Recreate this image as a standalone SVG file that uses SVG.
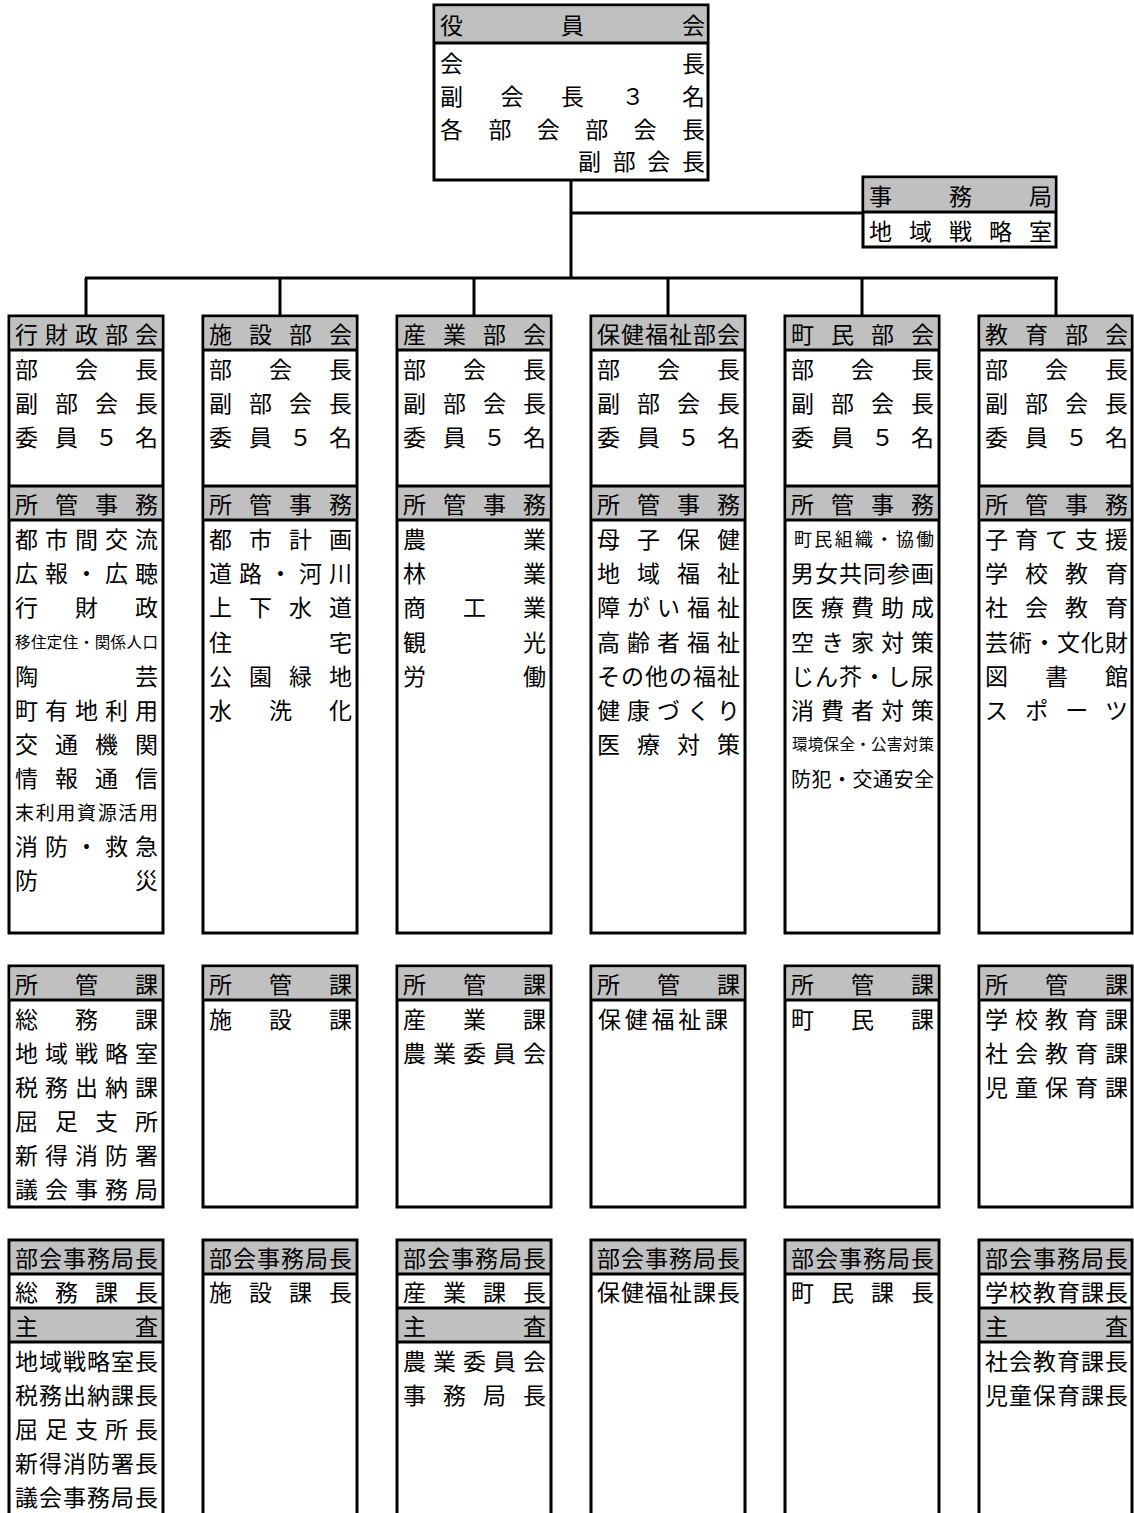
<svg xmlns="http://www.w3.org/2000/svg" width="1134" height="1513" viewBox="0 0 1134 1513">
<style>
.bg{fill:#ffffff}
.box{fill:#ffffff;stroke:#000;stroke-width:3}
.open{fill:none;stroke:#000;stroke-width:3}
.g{fill:#c0c0c0}
.ln{stroke:#000;stroke-width:3;fill:none}
text{font-family:"Noto Sans CJK JP","Noto Sans CJK SC",sans-serif;font-size:23px;fill:#000;dominant-baseline:central}
.s15{font-size:15.5px}
.s18{font-size:18px}
.s19{font-size:19px}
.s20{font-size:20px}
</style>
<rect class="bg" x="0" y="0" width="1134" height="1513"/>

<g id="connectors">
<path class="ln" d="M571,180 V278"/>
<path class="ln" d="M571,213 H863"/>
<path class="ln" d="M85,278 H1058"/>
<path class="ln" d="M86,278 V316 M280,278 V316 M474,278 V316 M668,278 V316 M862,278 V316 M1056,278 V316"/>
</g>

<g id="yakuinkai">
<rect class="box" x="434" y="5" width="274" height="175"/>
<rect class="g" x="435.5" y="6.5" width="271" height="36"/>
<path class="ln" d="M434,43 H708"/>
<text x="440" y="24" textLength="265" lengthAdjust="spacing">役員会</text>
<text x="440" y="62" textLength="265" lengthAdjust="spacing">会長</text>
<text x="440" y="95" textLength="265" lengthAdjust="spacing">副会長３名</text>
<text x="440" y="128" textLength="265" lengthAdjust="spacing">各部会部会長</text>
<text x="578" y="160" textLength="127" lengthAdjust="spacing">副部会長</text>
</g>

<g id="jimukyoku">
<rect class="box" x="863" y="177" width="193" height="70"/>
<rect class="g" x="864.5" y="178.5" width="190" height="33"/>
<path class="ln" d="M863,212 H1056"/>
<text x="869" y="195" textLength="183" lengthAdjust="spacing">事務局</text>
<text x="869" y="230" textLength="183" lengthAdjust="spacing">地域戦略室</text>
</g>

<!-- Column 1 -->
<g id="col1-bukai">
<rect class="box" x="9" y="316" width="154" height="617"/>
<rect class="g" x="10.5" y="317.5" width="151" height="32"/>
<rect class="g" x="10.5" y="487" width="151" height="32"/>
<path class="ln" d="M9,350 H163 M9,486 H163 M9,520 H163"/>
<text x="15" y="333" textLength="143" lengthAdjust="spacing">行財政部会</text>
<text x="15" y="368" textLength="143" lengthAdjust="spacing">部会長</text>
<text x="15" y="402" textLength="143" lengthAdjust="spacing">副部会長</text>
<text x="15" y="436" textLength="143" lengthAdjust="spacing">委員５名</text>
<text x="15" y="503" textLength="143" lengthAdjust="spacing">所管事務</text>
<text x="15" y="538" textLength="143" lengthAdjust="spacing">都市間交流</text>
<text x="15" y="572" textLength="143" lengthAdjust="spacing">広報・広聴</text>
<text x="15" y="606" textLength="143" lengthAdjust="spacing">行財政</text>
<text class="s15" x="15" y="641" textLength="143" lengthAdjust="spacing">移住定住・関係人口</text>
<text x="15" y="675" textLength="143" lengthAdjust="spacing">陶芸</text>
<text x="15" y="709" textLength="143" lengthAdjust="spacing">町有地利用</text>
<text x="15" y="743" textLength="143" lengthAdjust="spacing">交通機関</text>
<text x="15" y="777" textLength="143" lengthAdjust="spacing">情報通信</text>
<text class="s19" x="15" y="811" textLength="143" lengthAdjust="spacing">末利用資源活用</text>
<text x="15" y="845" textLength="143" lengthAdjust="spacing">消防・救急</text>
<text x="15" y="879" textLength="143" lengthAdjust="spacing">防災</text>
</g>
<g id="col1-kakari">
<rect class="box" x="9" y="966" width="154" height="241"/>
<rect class="g" x="10.5" y="967.5" width="151" height="32"/>
<path class="ln" d="M9,1000 H163"/>
<text x="15" y="983" textLength="143" lengthAdjust="spacing">所管課</text>
<text x="15" y="1018" textLength="143" lengthAdjust="spacing">総務課</text>
<text x="15" y="1052" textLength="143" lengthAdjust="spacing">地域戦略室</text>
<text x="15" y="1086" textLength="143" lengthAdjust="spacing">税務出納課</text>
<text x="15" y="1120" textLength="143" lengthAdjust="spacing">屈足支所</text>
<text x="15" y="1154" textLength="143" lengthAdjust="spacing">新得消防署</text>
<text x="15" y="1188" textLength="143" lengthAdjust="spacing">議会事務局</text>
</g>
<g id="col1-kyokucho">
<rect class="g" x="10.5" y="1241.5" width="151" height="32"/>
<rect class="g" x="10.5" y="1309" width="151" height="32"/>
<path class="open" d="M9,1513 V1240 H163 V1513"/>
<path class="ln" d="M9,1274 H163 M9,1308 H163 M9,1342 H163"/>
<text x="15" y="1257" textLength="143" lengthAdjust="spacing">部会事務局長</text>
<text x="15" y="1291" textLength="143" lengthAdjust="spacing">総務課長</text>
<text x="15" y="1325" textLength="143" lengthAdjust="spacing">主査</text>
<text x="15" y="1360" textLength="143" lengthAdjust="spacing">地域戦略室長</text>
<text x="15" y="1394" textLength="143" lengthAdjust="spacing">税務出納課長</text>
<text x="15" y="1428" textLength="143" lengthAdjust="spacing">屈足支所長</text>
<text x="15" y="1462" textLength="143" lengthAdjust="spacing">新得消防署長</text>
<text x="15" y="1496" textLength="143" lengthAdjust="spacing">議会事務局長</text>
</g>

<!-- Column 2 -->
<g id="col2-bukai">
<rect class="box" x="203" y="316" width="154" height="617"/>
<rect class="g" x="204.5" y="317.5" width="151" height="32"/>
<rect class="g" x="204.5" y="487" width="151" height="32"/>
<path class="ln" d="M203,350 H357 M203,486 H357 M203,520 H357"/>
<text x="209" y="333" textLength="143" lengthAdjust="spacing">施設部会</text>
<text x="209" y="368" textLength="143" lengthAdjust="spacing">部会長</text>
<text x="209" y="402" textLength="143" lengthAdjust="spacing">副部会長</text>
<text x="209" y="436" textLength="143" lengthAdjust="spacing">委員５名</text>
<text x="209" y="503" textLength="143" lengthAdjust="spacing">所管事務</text>
<text x="209" y="538" textLength="143" lengthAdjust="spacing">都市計画</text>
<text x="209" y="572" textLength="143" lengthAdjust="spacing">道路・河川</text>
<text x="209" y="606" textLength="143" lengthAdjust="spacing">上下水道</text>
<text x="209" y="641" textLength="143" lengthAdjust="spacing">住宅</text>
<text x="209" y="675" textLength="143" lengthAdjust="spacing">公園緑地</text>
<text x="209" y="709" textLength="143" lengthAdjust="spacing">水洗化</text>
</g>
<g id="col2-kakari">
<rect class="box" x="203" y="966" width="154" height="241"/>
<rect class="g" x="204.5" y="967.5" width="151" height="32"/>
<path class="ln" d="M203,1000 H357"/>
<text x="209" y="983" textLength="143" lengthAdjust="spacing">所管課</text>
<text x="209" y="1018" textLength="143" lengthAdjust="spacing">施設課</text>
</g>
<g id="col2-kyokucho">
<rect class="g" x="204.5" y="1241.5" width="151" height="32"/>
<path class="open" d="M203,1513 V1240 H357 V1513"/>
<path class="ln" d="M203,1274 H357"/>
<text x="209" y="1257" textLength="143" lengthAdjust="spacing">部会事務局長</text>
<text x="209" y="1291" textLength="143" lengthAdjust="spacing">施設課長</text>
</g>

<!-- Column 3 -->
<g id="col3-bukai">
<rect class="box" x="397" y="316" width="154" height="617"/>
<rect class="g" x="398.5" y="317.5" width="151" height="32"/>
<rect class="g" x="398.5" y="487" width="151" height="32"/>
<path class="ln" d="M397,350 H551 M397,486 H551 M397,520 H551"/>
<text x="403" y="333" textLength="143" lengthAdjust="spacing">産業部会</text>
<text x="403" y="368" textLength="143" lengthAdjust="spacing">部会長</text>
<text x="403" y="402" textLength="143" lengthAdjust="spacing">副部会長</text>
<text x="403" y="436" textLength="143" lengthAdjust="spacing">委員５名</text>
<text x="403" y="503" textLength="143" lengthAdjust="spacing">所管事務</text>
<text x="403" y="538" textLength="143" lengthAdjust="spacing">農業</text>
<text x="403" y="572" textLength="143" lengthAdjust="spacing">林業</text>
<text x="403" y="606" textLength="143" lengthAdjust="spacing">商工業</text>
<text x="403" y="641" textLength="143" lengthAdjust="spacing">観光</text>
<text x="403" y="675" textLength="143" lengthAdjust="spacing">労働</text>
</g>
<g id="col3-kakari">
<rect class="box" x="397" y="966" width="154" height="241"/>
<rect class="g" x="398.5" y="967.5" width="151" height="32"/>
<path class="ln" d="M397,1000 H551"/>
<text x="403" y="983" textLength="143" lengthAdjust="spacing">所管課</text>
<text x="403" y="1018" textLength="143" lengthAdjust="spacing">産業課</text>
<text x="403" y="1052" textLength="143" lengthAdjust="spacing">農業委員会</text>
</g>
<g id="col3-kyokucho">
<rect class="g" x="398.5" y="1241.5" width="151" height="32"/>
<rect class="g" x="398.5" y="1309" width="151" height="32"/>
<path class="open" d="M397,1513 V1240 H551 V1513"/>
<path class="ln" d="M397,1274 H551 M397,1308 H551 M397,1342 H551"/>
<text x="403" y="1257" textLength="143" lengthAdjust="spacing">部会事務局長</text>
<text x="403" y="1291" textLength="143" lengthAdjust="spacing">産業課長</text>
<text x="403" y="1325" textLength="143" lengthAdjust="spacing">主査</text>
<text x="403" y="1360" textLength="143" lengthAdjust="spacing">農業委員会</text>
<text x="403" y="1394" textLength="143" lengthAdjust="spacing">事務局長</text>
</g>

<!-- Column 4 -->
<g id="col4-bukai">
<rect class="box" x="591" y="316" width="154" height="617"/>
<rect class="g" x="592.5" y="317.5" width="151" height="32"/>
<rect class="g" x="592.5" y="487" width="151" height="32"/>
<path class="ln" d="M591,350 H745 M591,486 H745 M591,520 H745"/>
<text x="597" y="333" textLength="143" lengthAdjust="spacing">保健福祉部会</text>
<text x="597" y="368" textLength="143" lengthAdjust="spacing">部会長</text>
<text x="597" y="402" textLength="143" lengthAdjust="spacing">副部会長</text>
<text x="597" y="436" textLength="143" lengthAdjust="spacing">委員５名</text>
<text x="597" y="503" textLength="143" lengthAdjust="spacing">所管事務</text>
<text x="597" y="538" textLength="143" lengthAdjust="spacing">母子保健</text>
<text x="597" y="572" textLength="143" lengthAdjust="spacing">地域福祉</text>
<text x="597" y="606" textLength="143" lengthAdjust="spacing">障がい福祉</text>
<text x="597" y="641" textLength="143" lengthAdjust="spacing">高齢者福祉</text>
<text x="597" y="675" textLength="143" lengthAdjust="spacing">その他の福祉</text>
<text x="597" y="709" textLength="143" lengthAdjust="spacing">健康づくり</text>
<text x="597" y="743" textLength="143" lengthAdjust="spacing">医療対策</text>
</g>
<g id="col4-kakari">
<rect class="box" x="591" y="966" width="154" height="241"/>
<rect class="g" x="592.5" y="967.5" width="151" height="32"/>
<path class="ln" d="M591,1000 H745"/>
<text x="597" y="983" textLength="143" lengthAdjust="spacing">所管課</text>
<text x="598" y="1018" textLength="130" lengthAdjust="spacing">保健福祉課</text>
</g>
<g id="col4-kyokucho">
<rect class="g" x="592.5" y="1241.5" width="151" height="32"/>
<path class="open" d="M591,1513 V1240 H745 V1513"/>
<path class="ln" d="M591,1274 H745"/>
<text x="597" y="1257" textLength="143" lengthAdjust="spacing">部会事務局長</text>
<text x="597" y="1291" textLength="143" lengthAdjust="spacing">保健福祉課長</text>
</g>

<!-- Column 5 -->
<g id="col5-bukai">
<rect class="box" x="785" y="316" width="154" height="617"/>
<rect class="g" x="786.5" y="317.5" width="151" height="32"/>
<rect class="g" x="786.5" y="487" width="151" height="32"/>
<path class="ln" d="M785,350 H939 M785,486 H939 M785,520 H939"/>
<text x="791" y="333" textLength="143" lengthAdjust="spacing">町民部会</text>
<text x="791" y="368" textLength="143" lengthAdjust="spacing">部会長</text>
<text x="791" y="402" textLength="143" lengthAdjust="spacing">副部会長</text>
<text x="791" y="436" textLength="143" lengthAdjust="spacing">委員５名</text>
<text x="791" y="503" textLength="143" lengthAdjust="spacing">所管事務</text>
<text class="s18" x="794" y="538" textLength="140" lengthAdjust="spacing">町民組織・協働</text>
<text x="791" y="572" textLength="143" lengthAdjust="spacing">男女共同参画</text>
<text x="791" y="606" textLength="143" lengthAdjust="spacing">医療費助成</text>
<text x="791" y="641" textLength="143" lengthAdjust="spacing">空き家対策</text>
<text x="791" y="675" textLength="143" lengthAdjust="spacing">じん芥・し尿</text>
<text x="791" y="709" textLength="143" lengthAdjust="spacing">消費者対策</text>
<text class="s15" x="792" y="743" textLength="142" lengthAdjust="spacing">環境保全・公害対策</text>
<text class="s20" x="791" y="778" textLength="143" lengthAdjust="spacing">防犯・交通安全</text>
</g>
<g id="col5-kakari">
<rect class="box" x="785" y="966" width="154" height="241"/>
<rect class="g" x="786.5" y="967.5" width="151" height="32"/>
<path class="ln" d="M785,1000 H939"/>
<text x="791" y="983" textLength="143" lengthAdjust="spacing">所管課</text>
<text x="791" y="1018" textLength="143" lengthAdjust="spacing">町民課</text>
</g>
<g id="col5-kyokucho">
<rect class="g" x="786.5" y="1241.5" width="151" height="32"/>
<path class="open" d="M785,1513 V1240 H939 V1513"/>
<path class="ln" d="M785,1274 H939"/>
<text x="791" y="1257" textLength="143" lengthAdjust="spacing">部会事務局長</text>
<text x="791" y="1291" textLength="143" lengthAdjust="spacing">町民課長</text>
</g>

<!-- Column 6 -->
<g id="col6-bukai">
<rect class="box" x="979" y="316" width="153" height="617"/>
<rect class="g" x="980.5" y="317.5" width="150" height="32"/>
<rect class="g" x="980.5" y="487" width="150" height="32"/>
<path class="ln" d="M979,350 H1132 M979,486 H1132 M979,520 H1132"/>
<text x="985" y="333" textLength="143" lengthAdjust="spacing">教育部会</text>
<text x="985" y="368" textLength="143" lengthAdjust="spacing">部会長</text>
<text x="985" y="402" textLength="143" lengthAdjust="spacing">副部会長</text>
<text x="985" y="436" textLength="143" lengthAdjust="spacing">委員５名</text>
<text x="985" y="503" textLength="143" lengthAdjust="spacing">所管事務</text>
<text x="985" y="538" textLength="143" lengthAdjust="spacing">子育て支援</text>
<text x="985" y="572" textLength="143" lengthAdjust="spacing">学校教育</text>
<text x="985" y="606" textLength="143" lengthAdjust="spacing">社会教育</text>
<text x="985" y="641" textLength="143" lengthAdjust="spacing">芸術・文化財</text>
<text x="985" y="675" textLength="143" lengthAdjust="spacing">図書館</text>
<text x="985" y="709" textLength="143" lengthAdjust="spacing">スポーツ</text>
</g>
<g id="col6-kakari">
<rect class="box" x="979" y="966" width="153" height="241"/>
<rect class="g" x="980.5" y="967.5" width="150" height="32"/>
<path class="ln" d="M979,1000 H1132"/>
<text x="985" y="983" textLength="143" lengthAdjust="spacing">所管課</text>
<text x="985" y="1018" textLength="143" lengthAdjust="spacing">学校教育課</text>
<text x="985" y="1052" textLength="143" lengthAdjust="spacing">社会教育課</text>
<text x="985" y="1086" textLength="143" lengthAdjust="spacing">児童保育課</text>
</g>
<g id="col6-kyokucho">
<rect class="g" x="980.5" y="1241.5" width="150" height="32"/>
<rect class="g" x="980.5" y="1309" width="150" height="32"/>
<path class="open" d="M979,1513 V1240 H1132 V1513"/>
<path class="ln" d="M979,1274 H1132 M979,1308 H1132 M979,1342 H1132"/>
<text x="985" y="1257" textLength="143" lengthAdjust="spacing">部会事務局長</text>
<text x="985" y="1291" textLength="143" lengthAdjust="spacing">学校教育課長</text>
<text x="985" y="1325" textLength="143" lengthAdjust="spacing">主査</text>
<text x="985" y="1360" textLength="143" lengthAdjust="spacing">社会教育課長</text>
<text x="985" y="1394" textLength="143" lengthAdjust="spacing">児童保育課長</text>
</g>
</svg>
